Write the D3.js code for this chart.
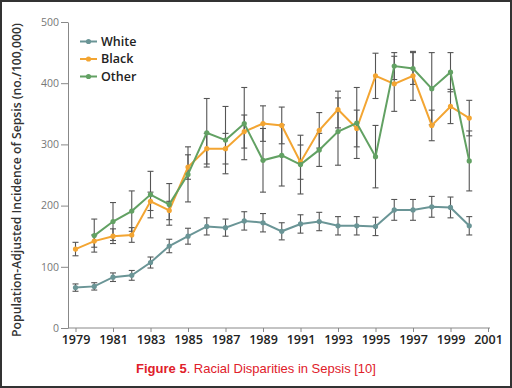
<!DOCTYPE html>
<html>
<head>
<meta charset="utf-8">
<script src="https://cdn.jsdelivr.net/npm/d3@7"></script>
<style>
  body { margin: 0; background: #fff; }
  svg { display: block; }
</style>
</head>
<body>
<div id="chart"></div>
<script>
// Data
const years = d3.range(1979, 2001);
const white = [66, 68, 83, 86, 107, 134, 150, 166, 164, 175, 172, 158, 170, 174, 167, 167, 166, 193, 193, 198, 197, 167];
const whiteErr = [6, 6, 7, 8, 9, 11, 13, 14, 14, 15, 15, 14, 15, 15, 15, 15, 15, 17, 17, 17, 17, 15];
const black = [129, 142, 150, 152, 207, 192, 263, 293, 293, 321, 334, 331, 271, 323, 357, 326, 412, 399, 412, 331, 362, 343];
const blackErr = [11, 10, 12, 12, 15, 15, 20, 25, 25, 27, 29, 30, 28, 29, 30, 30, 37, 45, 40, 25, 28, 29];
const other = [null, 151, 174, 191, 218, 202, 251, 319, 307, 334, 274, 282, 267, 291, 321, 335, 280, 428, 424, 391, 418, 273];
const otherErr = [null, 27, 31, 33, 38, 34, 45, 56, 55, 59, 52, 50, 48, 27, 55, 58, 51, 22, 26, 59, 32, 49];
const xTicks = d3.range(1979, 2002, 2);
const yTicks = [0, 100, 200, 300, 400, 500];

const series = [
  { name: "White", values: white, err: whiteErr, color: "#6a9596" },
  { name: "Black", values: black, err: blackErr, color: "#f3a532" },
  { name: "Other", values: other, err: otherErr, color: "#62a163" }
];

const width = 512;
const height = 388;

const svg = d3
  .select("#chart")
  .append("svg")
  .attr("width", width)
  .attr("height", height);

// Frame around the figure
svg
  .append("rect")
  .attr("x", 1)
  .attr("y", 1)
  .attr("width", width - 2)
  .attr("height", height - 2)
  .attr("fill", "#fff")
  .attr("stroke", "#333")
  .attr("stroke-width", 2);

// Scales
const xScale = d3.scaleLinear().domain([1979, 2001]).range([75.5, 488]);
const yScale = d3.scaleLinear().domain([0, 500]).range([328, 22]);

// Y axis
const yAxis = svg
  .append("g")
  .attr("transform", "translate(68,0)")
  .call(d3.axisLeft(yScale).tickValues(yTicks).tickSize(7).tickPadding(2).tickSizeOuter(0));
yAxis.select(".domain").attr("stroke", "#888");
yAxis.selectAll(".tick line").attr("stroke", "#888");
yAxis
  .selectAll(".tick text")
  .attr("fill", "#777")
  .style("font-family", "'Open Sans', sans-serif")
  .style("font-size", "10.5px");

// X axis
const xAxis = svg
  .append("g")
  .attr("transform", "translate(0,328)")
  .call(d3.axisBottom(xScale).tickValues(xTicks).tickFormat(d3.format("d")).tickSize(4).tickPadding(3).tickSizeOuter(0));
xAxis.select(".domain").attr("d", "M68,0H490").attr("stroke", "#888");
xAxis.selectAll(".tick line").attr("stroke", "#888");
xAxis
  .selectAll(".tick text")
  .attr("fill", "#222")
  .style("font-family", "'Open Sans', sans-serif")
  .style("font-weight", "600")
  .style("font-size", "12.5px");

// Y axis label
svg
  .append("text")
  .attr("transform", "translate(21,180) rotate(-90)")
  .attr("text-anchor", "middle")
  .attr("fill", "#333")
  .style("font-family", "'Open Sans', sans-serif")
  .style("font-weight", "600")
  .style("font-size", "12.2px")
  .text("Population-Adjusted Incidence of Sepsis (no./100,000)");

// Error bars
const bars = [];
series.forEach((s) => {
  s.values.forEach((v, i) => {
    if (v != null) bars.push({ year: years[i], v: v, e: s.err[i] });
  });
});

const eb = svg.append("g").attr("stroke", "#555").attr("stroke-width", 1.1);
eb.selectAll(".err")
  .data(bars)
  .enter()
  .append("line")
  .attr("x1", (d) => xScale(d.year))
  .attr("x2", (d) => xScale(d.year))
  .attr("y1", (d) => yScale(d.v - d.e))
  .attr("y2", (d) => yScale(d.v + d.e));
eb.selectAll(".cap-top")
  .data(bars)
  .enter()
  .append("line")
  .attr("x1", (d) => xScale(d.year) - 3)
  .attr("x2", (d) => xScale(d.year) + 3)
  .attr("y1", (d) => yScale(d.v + d.e))
  .attr("y2", (d) => yScale(d.v + d.e));
eb.selectAll(".cap-bottom")
  .data(bars)
  .enter()
  .append("line")
  .attr("x1", (d) => xScale(d.year) - 3)
  .attr("x2", (d) => xScale(d.year) + 3)
  .attr("y1", (d) => yScale(d.v - d.e))
  .attr("y2", (d) => yScale(d.v - d.e));

// Lines and markers
const line = d3
  .line()
  .defined((d) => d != null)
  .x((d, i) => xScale(years[i]))
  .y((d) => yScale(d));

series.forEach((s) => {
  svg
    .append("path")
    .datum(s.values)
    .attr("fill", "none")
    .attr("stroke", s.color)
    .attr("stroke-width", 2)
    .attr("d", line);

  svg
    .append("g")
    .selectAll("circle")
    .data(s.values.map((v, i) => ({ year: years[i], v: v })).filter((d) => d.v != null))
    .enter()
    .append("circle")
    .attr("cx", (d) => xScale(d.year))
    .attr("cy", (d) => yScale(d.v))
    .attr("r", 2.6)
    .attr("fill", s.color);
});

// Legend
const legend = svg
  .append("g")
  .selectAll("g")
  .data(series)
  .enter()
  .append("g")
  .attr("transform", (d, i) => `translate(80,${41.5 + i * 17.5})`);
legend
  .append("line")
  .attr("x1", 0)
  .attr("x2", 17)
  .attr("stroke", (d) => d.color)
  .attr("stroke-width", 2);
legend
  .append("circle")
  .attr("cx", 8.5)
  .attr("r", 2.6)
  .attr("fill", (d) => d.color);
legend
  .append("text")
  .attr("x", 21)
  .attr("dy", "0.35em")
  .attr("fill", "#222")
  .style("font-family", "'Open Sans', sans-serif")
  .style("font-weight", "600")
  .style("font-size", "12.5px")
  .text((d) => d.name);

// Caption
const caption = svg
  .append("text")
  .attr("x", 256)
  .attr("y", 373)
  .attr("text-anchor", "middle")
  .attr("fill", "#e0202a")
  .style("font-family", "'Liberation Sans', Arial, sans-serif")
  .style("font-size", "13px");
caption.append("tspan").style("font-weight", "bold").text("Figure 5");
caption.append("tspan").text(". Racial Disparities in Sepsis [10]");
</script>
</body>
</html>
